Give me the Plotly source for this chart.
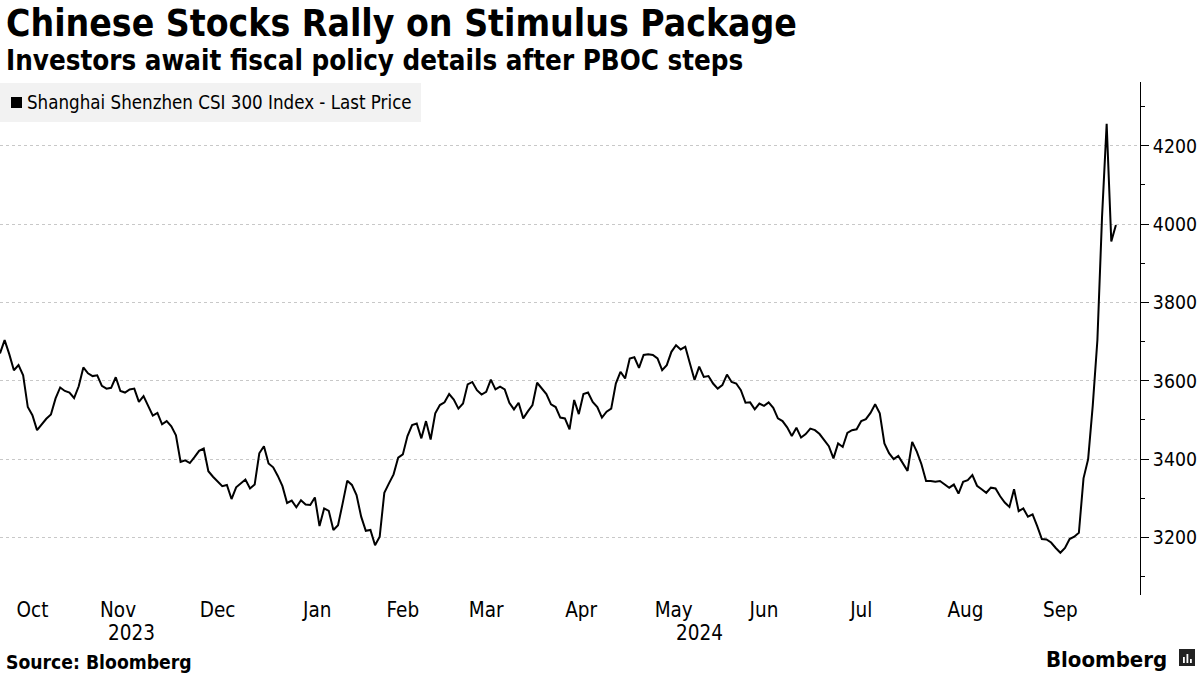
import plotly.graph_objects as go

# Trading-day index 0 = 2023-10-11 ... 241 = 2024-10-10
csi300 = [
    3670, 3704, 3668, 3627, 3640, 3614, 3533, 3512, 3474, 3490,
    3503, 3514, 3555, 3583, 3574, 3570, 3556, 3586, 3634, 3619,
    3612, 3614, 3587, 3580, 3582, 3609, 3574, 3570, 3578, 3580,
    3546, 3561, 3538, 3511, 3518, 3489, 3497, 3484, 3461, 3393,
    3397, 3390, 3405, 3421, 3427, 3369, 3355, 3342, 3331, 3334,
    3298, 3328, 3338, 3348, 3325, 3335, 3415, 3433, 3389, 3379,
    3357, 3331, 3288, 3294, 3277, 3295, 3284, 3283, 3302, 3229,
    3274, 3268, 3219, 3231, 3287, 3345, 3334, 3308, 3253, 3217,
    3219, 3180, 3202, 3314, 3338, 3361, 3404, 3412, 3459, 3487,
    3491, 3453, 3497, 3450, 3517, 3538, 3545, 3566, 3552, 3529,
    3542, 3591, 3597, 3576, 3565, 3572, 3603, 3578, 3585, 3578,
    3544, 3527, 3544, 3504, 3522, 3538, 3595, 3580, 3566, 3540,
    3533, 3506, 3504, 3476, 3551, 3515, 3566, 3570, 3546, 3533,
    3506, 3521, 3529, 3593, 3623, 3606, 3657, 3660, 3633, 3666,
    3668, 3666, 3657, 3627, 3640, 3674, 3691, 3680, 3687, 3644,
    3602, 3636, 3610, 3612, 3593, 3580, 3589, 3616, 3597, 3593,
    3576, 3544, 3545, 3527, 3542, 3536, 3545, 3531, 3504, 3497,
    3481, 3459, 3480, 3455, 3464, 3478, 3474, 3464, 3447, 3433,
    3402, 3440, 3431, 3467, 3474, 3476, 3497, 3502, 3518, 3540,
    3517, 3440, 3415, 3400, 3408, 3389, 3370, 3444, 3419, 3387,
    3344, 3344, 3342, 3344, 3335, 3327, 3335, 3312, 3342, 3346,
    3359, 3332, 3323, 3314, 3327, 3325, 3305, 3289, 3278, 3323,
    3267, 3274, 3253, 3259, 3229, 3196, 3195, 3187, 3173, 3161,
    3173, 3196, 3202, 3212, 3351, 3400, 3537, 3704, 4018, 4256,
    3956, 3998,
]
day_index = list(range(len(csi300)))

# month labels centred on each month's trading days
month_labels = ["Oct", "Nov", "Dec", "Jan", "Feb", "Mar", "Apr", "May",
                "Jun", "Jul", "Aug", "Sep"]
month_centers = [7, 25.5, 47, 68.5, 87, 105, 125.5, 145.5, 165, 186, 208.5, 229]
year_labels = ["2023", "2024"]
year_centers = [28.5, 151]

y_major = [3200, 3400, 3600, 3800, 4000, 4200]
y_minor = [3100, 3300, 3500, 3700, 3900, 4100, 4300]

FONT = "DejaVu Sans Condensed, DejaVu Sans"
PW = 1140.0   # plot width in px
PB = 595.0    # plot bottom in px
PH = 513.0    # plot height in px


def px_x(v):
    return v / PW


def px_y(v):
    return (PB - v) / PH


fig = go.Figure()
fig.add_trace(go.Scatter(
    x=day_index, y=csi300, mode="lines",
    line=dict(color="#000000", width=2),
    showlegend=False, hoverinfo="skip",
))

fig.update_layout(
    width=1200, height=675,
    margin=dict(l=0, r=60, t=82, b=80),
    paper_bgcolor="white", plot_bgcolor="white",
    font=dict(family=FONT, color="#000000"),
    xaxis=dict(
        range=[0, 246.2], showgrid=False, zeroline=False, showline=False,
        tickmode="array", tickvals=month_centers, ticktext=month_labels,
        ticks="", tickfont=dict(size=20.5, family=FONT), fixedrange=True,
    ),
    yaxis=dict(
        range=[3053, 4363], side="right", showline=True, linecolor="#000000",
        linewidth=1, zeroline=False, automargin=False,
        tickmode="array", tickvals=y_major, ticks="outside", ticklen=8,
        tickcolor="#000000", tickwidth=1,
        tickfont=dict(size=19.3, family=FONT),
        showgrid=True, gridcolor="#c8c8c8", griddash="dot", gridwidth=1,
        minor=dict(tickvals=y_minor, ticks="outside", ticklen=4,
                   tickcolor="#000000", showgrid=False),
    ),
)

annotations = [
    dict(text="<b>Chinese Stocks Rally on Stimulus Package</b>", x=px_x(4), y=px_y(24),
         xref="paper", yref="paper", xanchor="left", yanchor="middle",
         showarrow=False, font=dict(size=37, family=FONT)),
    dict(text="<b>Investors await fiscal policy details after PBOC steps</b>", x=px_x(4), y=px_y(60),
         xref="paper", yref="paper", xanchor="left", yanchor="middle",
         showarrow=False, font=dict(size=27.5, family=FONT)),
    dict(text="Shanghai Shenzhen CSI 300 Index - Last Price", x=px_x(25), y=px_y(102.5),
         xref="paper", yref="paper", xanchor="left", yanchor="middle",
         showarrow=False, font=dict(size=18.6, family=FONT)),
    dict(text="<b>Source: Bloomberg</b>", x=px_x(4), y=px_y(662),
         xref="paper", yref="paper", xanchor="left", yanchor="middle",
         showarrow=False, font=dict(size=19.2, family=FONT)),
    dict(text="<b>Bloomberg</b>", x=px_x(1169), y=px_y(659),
         xref="paper", yref="paper", xanchor="right", yanchor="middle",
         showarrow=False, font=dict(size=22, family=FONT)),
]
for lbl, cx in zip(year_labels, year_centers):
    annotations.append(dict(text=lbl, x=cx, y=px_y(633), xref="x", yref="paper",
                            xanchor="center", yanchor="middle", showarrow=False,
                            font=dict(size=20.5, family=FONT)))
fig.update_layout(annotations=annotations)

shapes = [
    # legend background box
    dict(type="rect", xref="paper", yref="paper", x0=0, x1=px_x(421),
         y0=px_y(122), y1=px_y(83), fillcolor="#f2f2f2", line=dict(width=0), layer="below"),
    # legend swatch
    dict(type="rect", xref="paper", yref="paper", x0=px_x(11), x1=px_x(22),
         y0=px_y(108), y1=px_y(97), fillcolor="#000000", line=dict(width=0)),
    # Bloomberg logo mark
    dict(type="rect", xref="paper", yref="paper", x0=px_x(1179), x1=px_x(1195),
         y0=px_y(666), y1=px_y(649), fillcolor="#222222", line=dict(width=0)),
]
for bx, top in [(1183, 657), (1186.5, 654), (1190, 659)]:
    shapes.append(dict(type="rect", xref="paper", yref="paper", x0=px_x(bx), x1=px_x(bx + 1.8),
                       y0=px_y(663), y1=px_y(top), fillcolor="#ffffff", line=dict(width=0)))
fig.update_layout(shapes=shapes)

fig.write_html("out.html", config={"displayModeBar": False},
               post_script="document.body.style.margin='0';")
